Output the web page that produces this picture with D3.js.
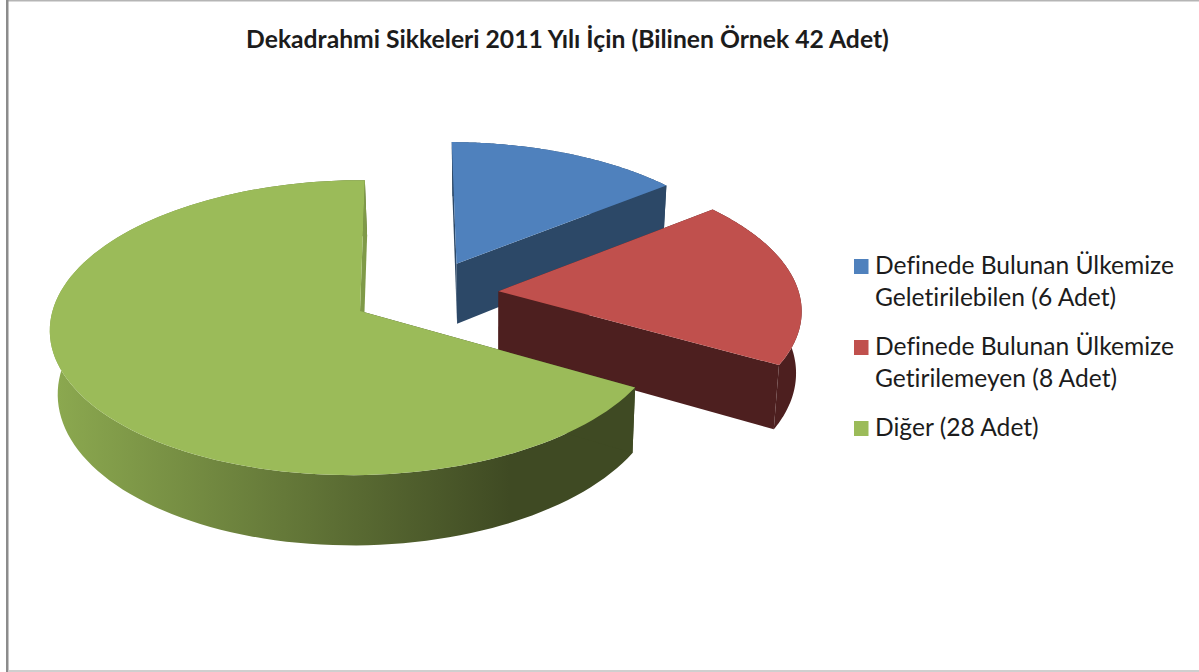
<!DOCTYPE html>
<html>
<head>
<meta charset="utf-8">
<script src="https://cdn.jsdelivr.net/npm/d3@7"></script>
<style>
    html, body { margin: 0; padding: 0; background: #fff; overflow: hidden; }
    text { font-family: Lato, "Open Sans", sans-serif; fill: #1c1c1c; font-variant-ligatures: none; }
</style>
</head>
<body>
<script>
var chartTitle = "Dekadrahmi Sikkeleri 2011 Yılı İçin (Bilinen Örnek 42 Adet)";
var categories = ["Definede Bulunan Ülkemize|Geletirilebilen (6 Adet)", "Definede Bulunan Ülkemize|Getirilemeyen (8 Adet)", "Diğer (28 Adet)"];
var values = [6, 8, 28];
var topColors = ["#4f81bd", "#c0504d", "#9bbb59"];
var wallColors = ["#2c4867", "#4d1f1f", "#3f4a23"];

var w = 1199, h = 672;

//pie plane to screen, close to what the tilted 3D view does
var view = {cx: 426, cy: 293.7, rx: 303, ry: 141.5, sx: 2, k: 0.111, m: 0.008, explode: 0.241};
var depth = {d: 61.4, vanishX: 490, shrink: 0.982};
//small per slice corrections, the picture is not a perfect projection
var sliceWidth = [0.99, 1.004, 0.99];
var sliceNudge = [0, 0, -0.0066];

function project(u, v) {
    var s = 1 - view.k * v + view.m * u;
    return {x: view.cx + (view.rx * u + view.sx * v) / s, y: view.cy + view.ry * v / s, s: s};
}

function top3d(u, v) {
    var p = project(u, v);
    return [p.x, p.y];
}

function bottom3d(u, v) {
    var p = project(u, v);
    return [depth.vanishX + (p.x - depth.vanishX) * depth.shrink, p.y + depth.d / p.s];
}

var svg = d3.select("body")
    .append("svg")
    .attr("width", w)
    .attr("height", h)
    .style("display", "block");

var defs = svg.append("defs");
var grad = defs.append("linearGradient")
    .attr("id", "greenWall")
    .attr("gradientUnits", "userSpaceOnUse")
    .attr("x1", 58).attr("x2", 510).attr("y1", 0).attr("y2", 0);
grad.append("stop").attr("offset", 0).attr("stop-color", "#8ba84f");
grad.append("stop").attr("offset", 1).attr("stop-color", "#3f4a23");

//frame of the original picture
var frame = svg.append("g");
frame.append("rect").attr("x", 6).attr("y", 0).attr("width", 1193).attr("height", 1.5).attr("fill", "#b5b5b5");
frame.append("rect").attr("x", 6).attr("y", 0).attr("width", 2.5).attr("height", h).attr("fill", "#8c8c8c");
frame.append("rect").attr("x", 8.5).attr("y", 670).attr("width", 1191).attr("height", 2).attr("fill", "#cfcfcf");

var pie = d3.pie().sort(null).value(function (d) { return d; });
var slices = pie(values);
var line = d3.line();

slices.forEach(function (d, i) {
    var mid = (d.startAngle + d.endAngle) / 2;
    var ou = view.explode * Math.sin(mid) + sliceNudge[i], ov = -view.explode * Math.cos(mid);
    var angles = d3.range(0, 121).map(function (t) {
        return d.startAngle + (d.endAngle - d.startAngle) * t / 120;
    });
    var rim = angles.map(function (a) {
        return [ou + sliceWidth[i] * Math.sin(a), ov - Math.cos(a)];
    });
    function pts(fn, list) {
        return list.map(function (p) { return fn(p[0], p[1]); });
    }
    var g = svg.append("g").attr("class", "slice");

    //outer wall
    g.append("path")
        .attr("d", line(pts(top3d, rim).concat(pts(bottom3d, rim).reverse())) + "Z")
        .attr("fill", i === 2 ? "url(#greenWall)" : wallColors[i]);

    //the two cut walls, the back one of the green slice catches some light
    [rim[0], rim[rim.length - 1]].forEach(function (e, j) {
        var face = [top3d(ou, ov), top3d(e[0], e[1]), bottom3d(e[0], e[1]), bottom3d(ou, ov)];
        g.append("path")
            .attr("d", line(face) + "Z")
            .attr("fill", (i === 2 && j === 1) ? "#7f9a48" : wallColors[i]);
    });

    //top face
    g.append("path")
        .attr("d", line([top3d(ou, ov)].concat(pts(top3d, rim))) + "Z")
        .attr("fill", topColors[i]);
});

svg.append("text")
    .attr("x", 567.5)
    .attr("y", 48)
    .attr("text-anchor", "middle")
    .style("font-size", "24.7px")
    .style("font-weight", 700)
    .text(chartTitle);

var legendTop = [259, 340, 421];
var legend = svg.selectAll(".legendItem")
    .data(categories)
    .enter()
    .append("g")
    .attr("class", "legendItem")
    .attr("transform", function (d, i) { return "translate(854," + legendTop[i] + ")"; });

legend.append("rect")
    .attr("width", 14.5)
    .attr("height", 15)
    .attr("fill", function (d, i) { return topColors[i]; });

legend.append("text")
    .style("font-size", "24.6px")
    .selectAll("tspan")
    .data(function (d) { return d.split("|"); })
    .enter()
    .append("tspan")
    .attr("x", 21)
    .attr("y", function (d, i) { return 15 + i * 32; })
    .text(function (d) { return d; });
</script>
</body>
</html>
